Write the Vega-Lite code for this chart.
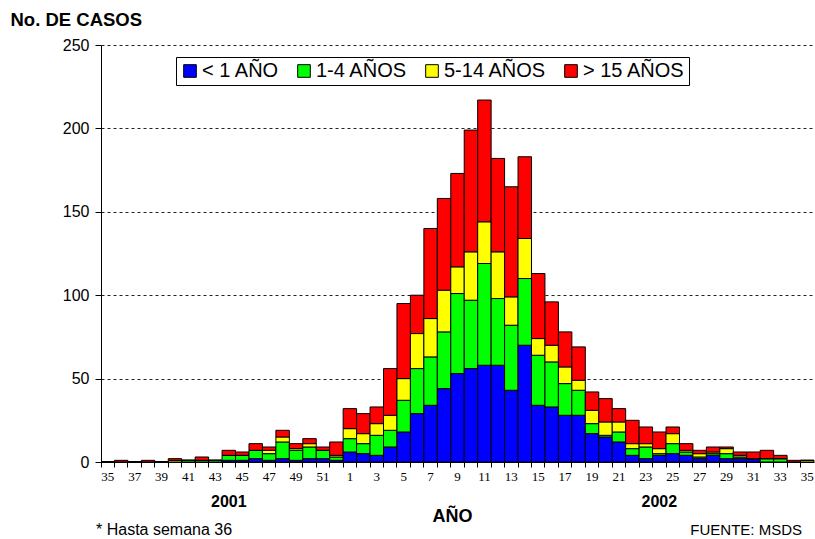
{
  "$schema": "https://vega.github.io/schema/vega-lite/v6.json",
  "width": 713,
  "height": 417,
  "autosize": {"type": "none"},
  "padding": {"left": 101, "top": 45, "right": 1, "bottom": 77},
  "config": {"view": {"stroke": null}, "font": "Liberation Sans"},
  "layer": [
    {
      "data": {"values": [
        {"k": "2001-35", "g1": 0, "g2": 0, "g3": 0, "g4": 0},
        {"k": "2001-36", "g1": 0, "g2": 0, "g3": 0, "g4": 1},
        {"k": "2001-37", "g1": 0, "g2": 0, "g3": 0, "g4": 0},
        {"k": "2001-38", "g1": 0, "g2": 0, "g3": 0, "g4": 1},
        {"k": "2001-39", "g1": 0, "g2": 0, "g3": 0, "g4": 0},
        {"k": "2001-40", "g1": 0, "g2": 0, "g3": 1, "g4": 1},
        {"k": "2001-41", "g1": 0, "g2": 1, "g3": 0, "g4": 0},
        {"k": "2001-42", "g1": 0, "g2": 1, "g3": 0, "g4": 2},
        {"k": "2001-43", "g1": 0, "g2": 1, "g3": 0, "g4": 0},
        {"k": "2001-44", "g1": 1, "g2": 3, "g3": 0, "g4": 3},
        {"k": "2001-45", "g1": 1, "g2": 3, "g3": 0, "g4": 2},
        {"k": "2001-46", "g1": 2, "g2": 5, "g3": 0, "g4": 4},
        {"k": "2001-47", "g1": 1, "g2": 4, "g3": 2, "g4": 2},
        {"k": "2001-48", "g1": 2, "g2": 10, "g3": 3, "g4": 4},
        {"k": "2001-49", "g1": 1, "g2": 6, "g3": 1, "g4": 3},
        {"k": "2001-50", "g1": 2, "g2": 7, "g3": 2, "g4": 3},
        {"k": "2001-51", "g1": 2, "g2": 5, "g3": 0, "g4": 2},
        {"k": "2001-52", "g1": 1, "g2": 2, "g3": 1, "g4": 8},
        {"k": "2002-1", "g1": 6, "g2": 8, "g3": 6, "g4": 12},
        {"k": "2002-2", "g1": 5, "g2": 6, "g3": 6, "g4": 12},
        {"k": "2002-3", "g1": 4, "g2": 12, "g3": 7, "g4": 10},
        {"k": "2002-4", "g1": 9, "g2": 10, "g3": 9, "g4": 28},
        {"k": "2002-5", "g1": 18, "g2": 19, "g3": 13, "g4": 45},
        {"k": "2002-6", "g1": 29, "g2": 27, "g3": 21, "g4": 23},
        {"k": "2002-7", "g1": 34, "g2": 29, "g3": 23, "g4": 54},
        {"k": "2002-8", "g1": 44, "g2": 34, "g3": 25, "g4": 55},
        {"k": "2002-9", "g1": 53, "g2": 48, "g3": 16, "g4": 56},
        {"k": "2002-10", "g1": 56, "g2": 41, "g3": 29, "g4": 73},
        {"k": "2002-11", "g1": 58, "g2": 61, "g3": 25, "g4": 73},
        {"k": "2002-12", "g1": 58, "g2": 40, "g3": 28, "g4": 56},
        {"k": "2002-13", "g1": 43, "g2": 39, "g3": 17, "g4": 66},
        {"k": "2002-14", "g1": 70, "g2": 40, "g3": 24, "g4": 49},
        {"k": "2002-15", "g1": 34, "g2": 30, "g3": 10, "g4": 39},
        {"k": "2002-16", "g1": 33, "g2": 27, "g3": 10, "g4": 26},
        {"k": "2002-17", "g1": 28, "g2": 19, "g3": 10, "g4": 21},
        {"k": "2002-18", "g1": 28, "g2": 15, "g3": 6, "g4": 20},
        {"k": "2002-19", "g1": 17, "g2": 6, "g3": 8, "g4": 11},
        {"k": "2002-20", "g1": 15, "g2": 1, "g3": 8, "g4": 14},
        {"k": "2002-21", "g1": 12, "g2": 6, "g3": 6, "g4": 8},
        {"k": "2002-22", "g1": 4, "g2": 4, "g3": 3, "g4": 14},
        {"k": "2002-23", "g1": 2, "g2": 7, "g3": 2, "g4": 10},
        {"k": "2002-24", "g1": 4, "g2": 1, "g3": 3, "g4": 10},
        {"k": "2002-25", "g1": 5, "g2": 6, "g3": 6, "g4": 4},
        {"k": "2002-26", "g1": 4, "g2": 2, "g3": 1, "g4": 4},
        {"k": "2002-27", "g1": 2, "g2": 1, "g3": 2, "g4": 2},
        {"k": "2002-28", "g1": 4, "g2": 1, "g3": 1, "g4": 3},
        {"k": "2002-29", "g1": 2, "g2": 3, "g3": 3, "g4": 1},
        {"k": "2002-30", "g1": 2, "g2": 1, "g3": 1, "g4": 2},
        {"k": "2002-31", "g1": 2, "g2": 0, "g3": 0, "g4": 4},
        {"k": "2002-32", "g1": 0, "g2": 2, "g3": 0, "g4": 5},
        {"k": "2002-33", "g1": 0, "g2": 2, "g3": 0, "g4": 2},
        {"k": "2002-34", "g1": 0, "g2": 0, "g3": 0, "g4": 1},
        {"k": "2002-35", "g1": 0, "g2": 0, "g3": 1, "g4": 0}
      ]},
      "transform": [{"fold": ["g1", "g2", "g3", "g4"], "as": ["grupo", "casos"]}],
      "mark": {"type": "bar", "stroke": "black", "strokeWidth": 1},
      "encoding": {
        "x": {
          "field": "k", "type": "ordinal", "sort": null,
          "scale": {"paddingInner": 0, "paddingOuter": 0},
          "axis": {
            "bandPosition": 0,
            "labelDx": 6.7,
            "labelAngle": 0,
            "labelExpr": "parseInt(split(datum.value,'-')[1]) % 2 == 1 ? split(datum.value,'-')[1] : ''",
            "labelOverlap": false,
            "labelFont": "Liberation Sans Narrow",
            "labelFontSize": 13,
            "labelColor": "black",
            "labelPadding": 3,
            "tickSize": 5,
            "tickColor": "black",
            "domainColor": "black",
            "title": "AÑO",
            "titleFontSize": 18,
            "titleFontWeight": "bold",
            "titleColor": "black",
            "titleX": 351,
            "titleY": 54,
            "titleBaseline": "middle"
          }
        },
        "y": {
          "field": "casos", "type": "quantitative", "stack": "zero",
          "scale": {"domain": [0, 250], "nice": false},
          "axis": {
            "values": [0, 50, 100, 150, 200, 250],
            "grid": true,
            "gridDash": [3, 3],
            "gridColor": "#222222",
            "gridWidth": 1,
            "domainColor": "black",
            "tickColor": "black",
            "tickSize": 6,
            "labelFontSize": 16,
            "labelColor": "black",
            "labelPadding": 6,
            "title": "No. DE CASOS",
            "titleAngle": 0,
            "titleAlign": "left",
            "titleBaseline": "alphabetic",
            "titleX": -91,
            "titleY": -20,
            "titleFontSize": 18.5,
            "titleFontWeight": "bold",
            "titleColor": "black"
          }
        },
        "color": {
          "field": "grupo", "type": "nominal",
          "scale": {"domain": ["g1", "g2", "g3", "g4"], "range": ["#0000FF", "#00FF00", "#FFFF00", "#FF0000"]},
          "legend": {
            "orient": "none",
            "legendX": 75,
            "legendY": 12,
            "direction": "horizontal",
            "title": null,
            "labelExpr": "{'g1': '< 1 AÑO', 'g2': '1-4 AÑOS', 'g3': '5-14 AÑOS', 'g4': '> 15 AÑOS'}[datum.label]",
            "labelFontSize": 20,
            "labelColor": "black",
            "labelOffset": 2,
            "symbolType": "square",
            "symbolSize": 160,
            "symbolStrokeColor": "black",
            "symbolStrokeWidth": 1,
            "symbolOpacity": 1,
            "strokeColor": "black",
            "fillColor": "white",
            "padding": 4,
            "columnPadding": 14
          }
        },
        "order": {"field": "grupo", "sort": "ascending"}
      }
    },
    {
      "data": {"values": [{"k": "2001-44", "t": "2001"}, {"k": "2002-24", "t": "2002"}]},
      "mark": {"type": "text", "fontSize": 16, "fontWeight": "bold", "align": "center", "baseline": "middle", "color": "black"},
      "encoding": {
        "x": {"field": "k", "type": "ordinal", "sort": null, "bandPosition": 0.5},
        "y": {"datum": -24, "type": "quantitative"},
        "text": {"field": "t"}
      }
    },
    {
      "data": {"values": [{"k": "2001-35", "t": "* Hasta semana 36"}]},
      "mark": {"type": "text", "fontSize": 16, "align": "left", "baseline": "middle", "color": "black", "dx": -5},
      "encoding": {
        "x": {"field": "k", "type": "ordinal", "sort": null, "bandPosition": 0},
        "y": {"datum": -41, "type": "quantitative"},
        "text": {"field": "t"}
      }
    },
    {
      "data": {"values": [{"k": "2002-35", "t": "FUENTE: MSDS"}]},
      "mark": {"type": "text", "fontSize": 15, "align": "right", "baseline": "middle", "color": "black", "dx": -12},
      "encoding": {
        "x": {"field": "k", "type": "ordinal", "sort": null, "bandPosition": 1},
        "y": {"datum": -41, "type": "quantitative"},
        "text": {"field": "t"}
      }
    }
  ]
}
